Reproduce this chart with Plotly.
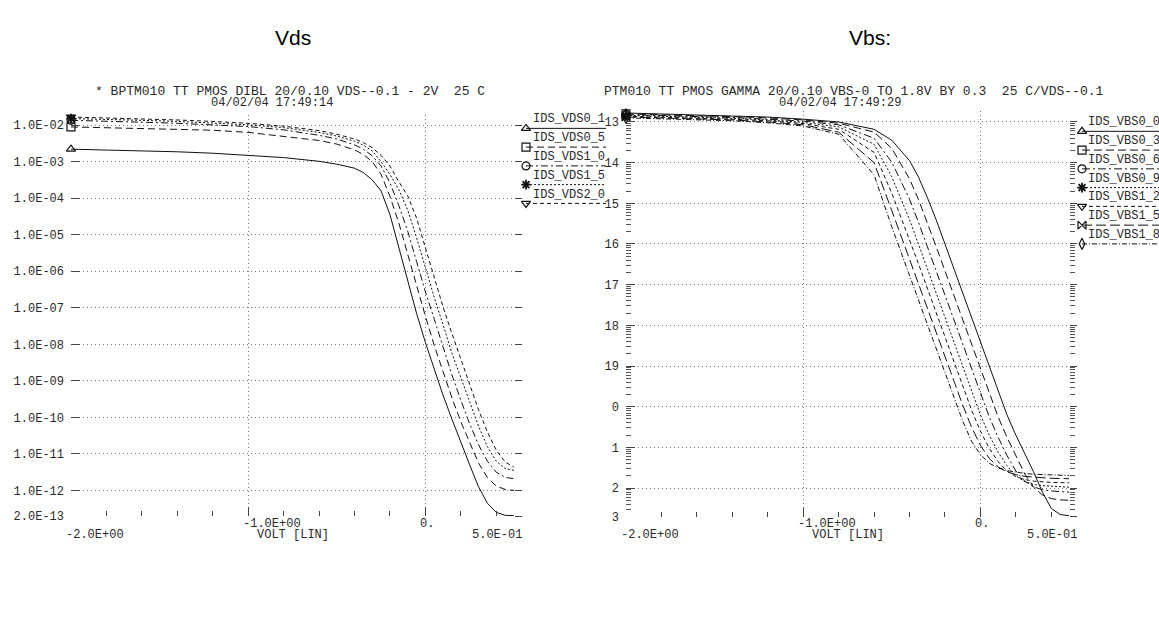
import math
import plotly.graph_objects as go

# ---------------------------------------------------------------- data
VGS = [-2.0, -1.8, -1.6, -1.4, -1.2, -1.0, -0.8, -0.6, -0.5, -0.4, -0.35, -0.3, -0.25, -0.2,
       -0.15, -0.1, -0.05, 0.0, 0.05, 0.1, 0.15, 0.2, 0.25, 0.3, 0.35, 0.4, 0.45, 0.5]

# Panel 1 : Vds sweep (A)
IDS_VDS0_1 = [2.19e-3, 2.09e-3, 2.0e-3, 1.86e-3, 1.70e-3, 1.51e-3, 1.29e-3, 1.02e-3, 8.51e-4, 6.61e-4,
              5.01e-4, 3.16e-4, 1.58e-4, 3.55e-5, 4.47e-6, 5.01e-7, 7.08e-8, 1.12e-8, 2.0e-9, 3.98e-10,
              8.91e-11, 2.0e-11, 5.01e-12, 1.26e-12, 4.47e-13, 2.51e-13, 2.09e-13, 2.04e-13]
IDS_VDS0_5 = [8.91e-3, 8.51e-3, 8.13e-3, 7.76e-3, 7.24e-3, 6.31e-3, 5.01e-3, 3.80e-3, 3.02e-3, 2.09e-3,
              1.58e-3, 1.0e-3, 4.47e-4, 1.12e-4, 2.09e-5, 2.88e-6, 3.80e-7, 5.89e-8, 9.33e-9, 1.70e-9,
              3.39e-10, 7.59e-11, 2.0e-11, 5.62e-12, 2.24e-12, 1.32e-12, 1.07e-12, 1.0e-12]
IDS_VDS1_0 = [1.35e-2, 1.29e-2, 1.20e-2, 1.12e-2, 1.02e-2, 9.12e-3, 7.41e-3, 5.25e-3, 4.17e-3, 2.88e-3,
              2.19e-3, 1.45e-3, 7.59e-4, 2.63e-4, 6.31e-5, 1.26e-5, 1.86e-6, 2.75e-7, 4.90e-8, 7.94e-9,
              1.45e-9, 2.95e-10, 6.61e-11, 1.78e-11, 6.31e-12, 3.16e-12, 2.29e-12, 2.09e-12]
IDS_VDS1_5 = [1.51e-2, 1.45e-2, 1.35e-2, 1.26e-2, 1.15e-2, 1.02e-2, 8.51e-3, 6.31e-3, 5.01e-3, 3.63e-3,
              2.82e-3, 1.95e-3, 1.0e-3, 4.47e-4, 1.70e-4, 4.79e-5, 8.32e-6, 1.20e-6, 1.91e-7, 3.39e-8,
              5.62e-9, 1.23e-9, 2.51e-10, 5.75e-11, 1.58e-11, 6.31e-12, 3.98e-12, 3.55e-12]
IDS_VDS2_0 = [1.66e-2, 1.58e-2, 1.48e-2, 1.38e-2, 1.26e-2, 1.12e-2, 9.33e-3, 7.08e-3, 5.62e-3, 4.17e-3,
              3.31e-3, 2.40e-3, 1.48e-3, 7.59e-4, 2.82e-4, 1.17e-4, 2.88e-5, 4.47e-6, 6.31e-7, 1.05e-7,
              1.95e-8, 3.98e-9, 7.59e-10, 1.62e-10, 3.98e-11, 1.26e-11, 6.03e-12, 4.37e-12]

# Panel 2 : Vbs sweep (A)
IDS_VBS0_0 = [1.66e-3, 1.58e-3, 1.51e-3, 1.41e-3, 1.32e-3, 1.17e-3, 1.0e-3, 6.61e-4, 3.55e-4, 1.12e-4,
              4.47e-5, 1.41e-5, 3.98e-6, 1.0e-6, 2.51e-7, 6.31e-8, 1.58e-8, 3.98e-9, 1.0e-9, 2.51e-10,
              6.31e-11, 2.0e-11, 7.08e-12, 2.51e-12, 7.94e-13, 3.16e-13, 2.24e-13, 2.09e-13]
IDS_VBS0_3 = [1.58e-3, 1.51e-3, 1.45e-3, 1.35e-3, 1.26e-3, 1.12e-3, 9.33e-4, 5.62e-4, 2.24e-4, 3.98e-5,
              1.26e-5, 3.47e-6, 8.71e-7, 2.19e-7, 5.50e-8, 1.38e-8, 3.47e-9, 8.71e-10, 2.19e-10, 5.62e-11,
              1.78e-11, 6.31e-12, 2.24e-12, 1.05e-12, 6.76e-13, 5.50e-13, 5.13e-13, 5.01e-13]
IDS_VBS0_6 = [1.51e-3, 1.45e-3, 1.38e-3, 1.29e-3, 1.17e-3, 1.05e-3, 8.51e-4, 3.98e-4, 1.02e-4, 1.26e-5,
              3.47e-6, 8.71e-7, 2.19e-7, 5.50e-8, 1.38e-8, 3.47e-9, 8.71e-10, 2.19e-10, 5.62e-11, 1.78e-11,
              6.31e-12, 2.63e-12, 1.48e-12, 1.07e-12, 9.12e-13, 8.51e-13, 8.13e-13, 7.94e-13]
IDS_VBS0_9 = [1.45e-3, 1.38e-3, 1.32e-3, 1.23e-3, 1.12e-3, 9.77e-4, 7.59e-4, 2.82e-4, 4.47e-5, 3.98e-6,
              1.0e-6, 2.51e-7, 6.31e-8, 1.58e-8, 3.98e-9, 1.0e-9, 2.51e-10, 6.31e-11, 2.0e-11, 7.59e-12,
              3.55e-12, 2.0e-12, 1.45e-12, 1.23e-12, 1.15e-12, 1.10e-12, 1.07e-12, 1.05e-12]
IDS_VBS1_2 = [1.38e-3, 1.32e-3, 1.26e-3, 1.17e-3, 1.07e-3, 9.12e-4, 6.61e-4, 1.78e-4, 1.78e-5, 1.32e-6,
              3.31e-7, 8.32e-8, 2.09e-8, 5.25e-9, 1.32e-9, 3.31e-10, 8.32e-11, 2.51e-11, 9.55e-12, 4.47e-12,
              2.63e-12, 1.91e-12, 1.62e-12, 1.48e-12, 1.41e-12, 1.38e-12, 1.36e-12, 1.35e-12]
IDS_VBS1_5 = [1.32e-3, 1.26e-3, 1.20e-3, 1.12e-3, 1.0e-3, 8.51e-4, 5.62e-4, 1.0e-4, 6.61e-6, 4.37e-7,
              1.10e-7, 2.75e-8, 6.92e-9, 1.74e-9, 4.37e-10, 1.10e-10, 3.16e-11, 1.12e-11, 5.37e-12, 3.31e-12,
              2.51e-12, 2.14e-12, 1.95e-12, 1.86e-12, 1.78e-12, 1.74e-12, 1.72e-12, 1.70e-12]
IDS_VBS1_8 = [1.26e-3, 1.20e-3, 1.15e-3, 1.07e-3, 9.55e-4, 7.94e-4, 5.01e-4, 5.01e-5, 2.63e-6, 1.66e-7,
              4.17e-8, 1.05e-8, 2.63e-9, 6.61e-10, 1.66e-10, 4.47e-11, 1.41e-11, 6.61e-12, 4.07e-12, 3.16e-12,
              2.69e-12, 2.45e-12, 2.29e-12, 2.19e-12, 2.14e-12, 2.09e-12, 2.07e-12, 2.04e-12]

VDS_NAMES = ["IDS_VDS0_1", "IDS_VDS0_5", "IDS_VDS1_0", "IDS_VDS1_5", "IDS_VDS2_0"]
VDS_DATA = [IDS_VDS0_1, IDS_VDS0_5, IDS_VDS1_0, IDS_VDS1_5, IDS_VDS2_0]
VBS_NAMES = ["IDS_VBS0_0", "IDS_VBS0_3", "IDS_VBS0_6", "IDS_VBS0_9", "IDS_VBS1_2", "IDS_VBS1_5", "IDS_VBS1_8"]
VBS_DATA = [IDS_VBS0_0, IDS_VBS0_3, IDS_VBS0_6, IDS_VBS0_9, IDS_VBS1_2, IDS_VBS1_5, IDS_VBS1_8]

Y1_TICKS = [1e-2, 1e-3, 1e-4, 1e-5, 1e-6, 1e-7, 1e-8, 1e-9, 1e-10, 1e-11, 1e-12, 2e-13]
Y1_TEXT = ["1.0E-02", "1.0E-03", "1.0E-04", "1.0E-05", "1.0E-06", "1.0E-07", "1.0E-08",
           "1.0E-09", "1.0E-10", "1.0E-11", "1.0E-12", "2.0E-13"]
Y2_TICKS = [1e-3, 1e-4, 1e-5, 1e-6, 1e-7, 1e-8, 1e-9, 1e-10, 1e-11, 1e-12, 2e-13]
Y2_TEXT = ["13", "14", "15", "16", "17", "18", "19", "0", "1", "2", "3"]
X_MAJOR = [-1.0, 0.0]
X_MINOR = [-1.8, -1.6, -1.4, -1.2, -0.8, -0.6, -0.4, -0.2, 0.2, 0.4]
X_UPPER_LABELS = [(-1.0, "-1.0E+00"), (0.0, "0.")]
X_FIRST = (-2.0, "-2.0E+00")
X_LAST = (0.5, "5.0E-01")
X_TITLE = "VOLT [LIN]"

TITLE_L = "Vds"
TITLE_R = "Vbs:"
SUB_L1 = "* BPTM010 TT PMOS DIBL 20/0.10 VDS--0.1 - 2V  25 C"
SUB_L2 = "04/02/04 17:49:14"
SUB_R1 = "PTM010 TT PMOS GAMMA 20/0.10 VBS-0 TO 1.8V BY 0.3  25 C/VDS--0.1"
SUB_R2 = "04/02/04 17:49:29"

# ---------------------------------------------------------------- styles / layout
W, H = 1159, 635
MONO = "Liberation Mono, DejaVu Sans Mono, monospace"
SANS = "Liberation Sans, Arial, sans-serif"
INK = "#111111"
TXT = "#2a2a2a"
GRID = "#777777"
GRIDDASH = "1px,3px"

VDS_STYLE = [("solid", "triangle-up-open"), ("7px,4px", "square-open"),
             ("7px,3px,2px,3px", "circle-open"), ("2px,2px", "asterisk-open"),
             ("4px,3px", "triangle-down-open")]
VBS_STYLE = [("solid", "triangle-up-open"), ("8px,4px", "square-open"),
             ("8px,3px,2px,3px", "circle-open"), ("2px,2px", "asterisk-open"),
             ("4px,3px", "triangle-down-open"), ("10px,4px", "bowtie-open"),
             ("5px,2px,1px,2px", "diamond-tall-open")]

YBOT = math.log10(2e-13)
# panel geometry in page pixels (x of -2 V / 0.5 V, y of top / bottom edge)
P1 = dict(x0=71, x1=514, yt=116.7, yb=522.6, ytop=-1.73)
P2 = dict(x0=626, x1=1069, yt=112.8, yb=523.1, ytop=-2.74)

LEG1 = dict(mx=526, tx=531, lx1=606, ty0=121, ly0=130, dy=19)
LEG2 = dict(mx=1082, tx=1086, lx1=1159, ty0=124, ly0=133, dy=19)


def px(p):
    return p / W


def py(p):
    return 1 - p / H


fig = go.Figure()


def add_panel(xa, ya, data, names, styles):
    n = len(VGS)
    for vals, nm, (dash, sym) in zip(data, names, styles):
        fig.add_trace(go.Scatter(
            x=VGS, y=vals, name=nm, mode="lines+markers",
            xaxis=xa, yaxis=ya, showlegend=False, cliponaxis=False,
            line=dict(color=INK, width=1, dash=dash),
            marker=dict(symbol=sym, size=[8] + [0] * (n - 1), opacity=[1] + [0] * (n - 1),
                        color=INK, line=dict(color=INK, width=1.2 if "asterisk" not in sym else 1.8)),
        ))


add_panel("x", "y", VDS_DATA, VDS_NAMES, VDS_STYLE)
add_panel("x3", "y3", VBS_DATA, VBS_NAMES, VBS_STYLE)

# invisible traces so that the right-hand overlay axes are created
fig.add_trace(go.Scatter(x=VGS, y=IDS_VDS0_1, xaxis="x", yaxis="y2", mode="lines",
                         line=dict(width=0), showlegend=False, hoverinfo="skip"))
fig.add_trace(go.Scatter(x=VGS, y=IDS_VBS0_0, xaxis="x3", yaxis="y4", mode="lines",
                         line=dict(width=0), showlegend=False, hoverinfo="skip"))

annotations = []


def add_legend(names, styles, L):
    """HSPICE style legend: label with marker + line sample underneath."""
    for i, (nm, (dash, sym)) in enumerate(zip(names, styles)):
        ly = L["ly0"] + i * L["dy"]
        fig.add_trace(go.Scatter(
            x=[L["mx"], L["lx1"]], y=[ly, ly], mode="lines+markers",
            xaxis="x5", yaxis="y5", showlegend=False, hoverinfo="skip", cliponaxis=False,
            line=dict(color=INK, width=1, dash=dash),
            marker=dict(symbol=sym, size=[8, 0], opacity=[1, 0], color=INK,
                        line=dict(color=INK, width=1.2 if "asterisk" not in sym else 1.8)),
        ))
        annotations.append(dict(
            text=nm, xref="paper", yref="paper", x=px(L["tx"]), y=py(L["ty0"] + i * L["dy"]),
            xanchor="left", yanchor="middle", showarrow=False,
            font=dict(family=MONO, size=12, color=TXT)))


add_legend(VDS_NAMES, VDS_STYLE, LEG1)
add_legend(VBS_NAMES, VBS_STYLE, LEG2)


def x_labels(xref, P):
    f = dict(family=MONO, size=12, color=TXT)
    for v, t in X_UPPER_LABELS:
        annotations.append(dict(text=t, xref=xref, yref="paper", x=v, y=py(P["yb"] + 8),
                                xanchor="left", xshift=-7, yanchor="middle", showarrow=False, font=f))
    annotations.append(dict(text=X_FIRST[1], xref=xref, yref="paper", x=X_FIRST[0], y=py(P["yb"] + 19),
                            xanchor="left", xshift=-7, yanchor="middle", showarrow=False, font=f))
    annotations.append(dict(text=X_LAST[1], xref=xref, yref="paper", x=X_LAST[0], y=py(P["yb"] + 19),
                            xanchor="right", xshift=10, yanchor="middle", showarrow=False, font=f))
    annotations.append(dict(text=X_TITLE, xref="paper", yref="paper", x=px((P["x0"] + P["x1"]) / 2),
                            y=py(P["yb"] + 19), xanchor="center", yanchor="middle", showarrow=False,
                            font=f))


x_labels("x", P1)
x_labels("x3", P2)

for txt, cx, cy, fnt, sz in [
    (TITLE_L, 293, 38, SANS, 21), (TITLE_R, 870, 38, SANS, 21),
    (SUB_L1, 290, 93, MONO, 13), (SUB_L2, 272, 104.5, MONO, 12),
    (SUB_R1, 853, 93, MONO, 13), (SUB_R2, 840, 104.5, MONO, 12),
]:
    annotations.append(dict(text=txt, xref="paper", yref="paper", x=px(cx), y=py(cy),
                            xanchor="center", yanchor="middle", showarrow=False,
                            font=dict(family=fnt, size=sz, color="#000" if fnt == SANS else TXT)))

minor_log = [k * 10.0 ** e for e in range(-13, -2) for k in range(2, 10)
             if 2.5e-13 < k * 10.0 ** e < 1.8e-3]


def xaxis_cfg(P, anchor):
    return dict(domain=[px(P["x0"]), px(P["x1"])], anchor=anchor, range=[-2.0, 0.5],
                tickmode="array", tickvals=X_MAJOR, showticklabels=False,
                ticks="inside", ticklen=9, tickcolor="#444", tickwidth=1,
                showgrid=True, gridcolor=GRID, griddash=GRIDDASH, gridwidth=1,
                zeroline=False, showline=False,
                minor=dict(tickmode="array", tickvals=X_MINOR, ticks="inside", ticklen=5,
                           tickcolor="#444", showgrid=False))


def yaxis_main(P, anchor, tv, tt, minor=None):
    d = dict(type="log", domain=[py(P["yb"]), py(P["yt"])], anchor=anchor,
             range=[YBOT, P["ytop"]], tickmode="array", tickvals=tv, ticktext=tt,
             ticks="inside", ticklen=9, tickcolor="#444", tickwidth=1,
             ticklabelstandoff=6,
             tickfont=dict(family=MONO, size=12, color=TXT),
             showgrid=True, gridcolor=GRID, griddash=GRIDDASH, gridwidth=1,
             zeroline=False, showline=False)
    if minor:
        d["minor"] = minor
    return d


def yaxis_right(P, anchor, over, tv, minor=None):
    d = dict(type="log", domain=[py(P["yb"]), py(P["yt"])], anchor=anchor, overlaying=over,
             side="right", range=[YBOT, P["ytop"]], tickmode="array", tickvals=tv,
             showticklabels=False, ticks="outside", ticklen=7, tickcolor="#444", tickwidth=1,
             showgrid=False, zeroline=False, showline=False)
    if minor:
        d["minor"] = minor
    return d


minor_in = dict(tickmode="array", tickvals=minor_log, ticks="inside", ticklen=5,
                tickcolor="#555", showgrid=False)
minor_out = dict(tickmode="array", tickvals=minor_log, ticks="outside", ticklen=5,
                 tickcolor="#555", showgrid=False)

fig.update_layout(
    width=W, height=H, margin=dict(l=0, r=0, t=0, b=0),
    paper_bgcolor="white", plot_bgcolor="rgba(0,0,0,0)",
    showlegend=False, hovermode=False,
    xaxis=xaxis_cfg(P1, "y"),
    yaxis=yaxis_main(P1, "x", Y1_TICKS, Y1_TEXT),
    yaxis2=yaxis_right(P1, "x", "y", Y1_TICKS),
    xaxis3=xaxis_cfg(P2, "y3"),
    yaxis3=yaxis_main(P2, "x3", Y2_TICKS, Y2_TEXT, minor_in),
    yaxis4=yaxis_right(P2, "x3", "y3", Y2_TICKS, minor_out),
    xaxis5=dict(domain=[0, 1], anchor="y5", range=[0, W], visible=False, fixedrange=True),
    yaxis5=dict(domain=[0, 1], anchor="x5", range=[H, 0], visible=False, fixedrange=True),
    annotations=annotations,
)

fig.write_html("out.html")
